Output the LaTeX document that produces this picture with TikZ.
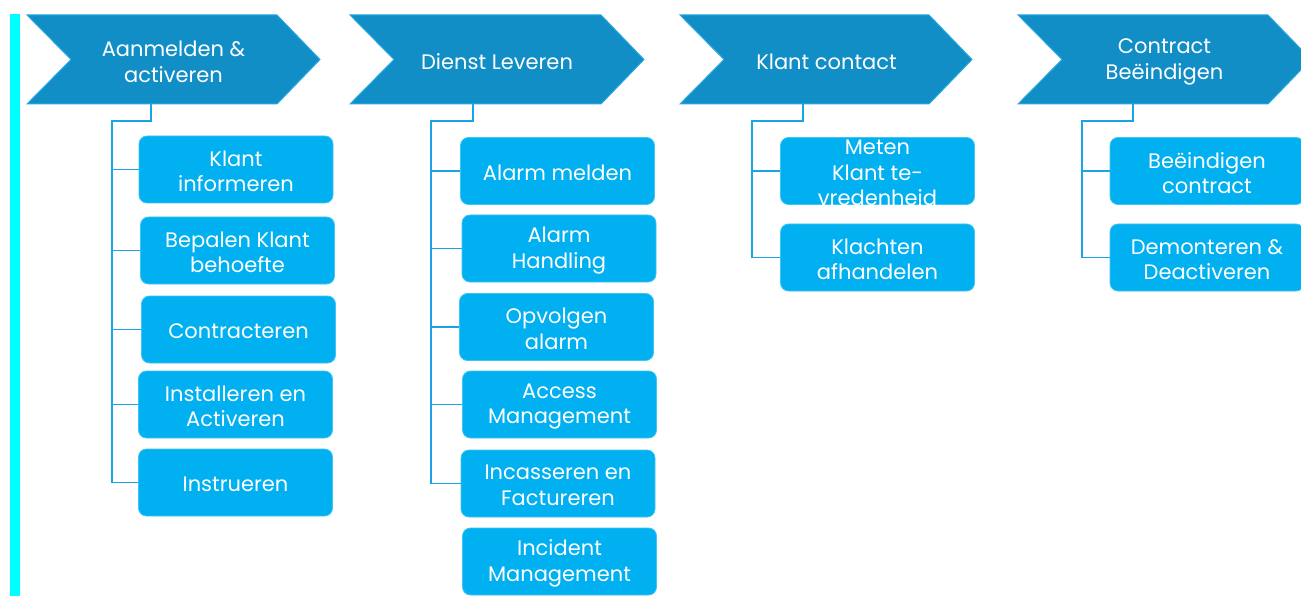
\documentclass[tikz,border=0pt]{standalone}
\usepackage{fontspec}
\setmainfont{Poppins}
\definecolor{chevfill}{HTML}{128EC6}
\definecolor{chevline}{HTML}{2AA8E2}
\definecolor{boxfill}{HTML}{00B0F0}
\definecolor{connc}{HTML}{1AA4E4}
\definecolor{cyanbar}{HTML}{00FFFF}
\newcommand\mychevron[2]{%
  \draw[chev] (#1,15) -- (#2,15) -- (#2+43,59.5) -- (#2,104) -- (#1,104) -- (#1+44,59.5) -- cycle;}
\begin{document}
\begin{tikzpicture}[x=1pt,y=-1pt,
  chev/.style={fill=chevfill, draw=chevline, line width=1pt},
  chevtext/.style={text=white, align=center, font=\fontsize{21}{25.5}\selectfont, inner sep=0pt},
  box/.style={rectangle, rounded corners=8pt, fill=boxfill, draw=boxfill!75!white, line width=0.8pt,
    minimum width=194pt, minimum height=67pt, text=white, align=center,
    font=\fontsize{21}{25.5}\selectfont, inner sep=0pt},
  boxtext/.style={text=white, align=center, font=\fontsize{21}{25.5}\selectfont, inner sep=0pt},
  conn/.style={draw=connc, line width=1.4pt}]
\useasboundingbox (0,0) rectangle (1301,596);
\fill[cyanbar] (10,14) rectangle (20,596);
% chevrons
\mychevron{27}{277}
\mychevron{350}{601}
\mychevron{680}{929}
\mychevron{1018}{1268}
\node[chevtext] (c1) at (173.5,62) {Aanmelden \&\\activeren};
\node[chevtext] (c2) at (497,62) {Dienst Leveren};
\node[chevtext] (c3) at (826.5,62) {Klant contact};
\node[chevtext] (c4) at (1164.5,62) {Contract\\Beëindigen};
% column 1
\node[box] (k1) at (236,169.5) {};
\node[boxtext] at (236,171.5) {Klant\\informeren};
\node[box] (k2) at (237.5,250.5) {};
\node[boxtext] at (237.5,252.5) {Bepalen Klant\\behoefte};
\node[box] (k3) at (238.5,329.5) {};
\node[boxtext] at (238.5,331.5) {Contracteren};
\node[box] (k4) at (235.5,404.5) {};
\node[boxtext] at (235.5,406.5) {Installeren en\\Activeren};
\node[box] (k5) at (235.5,482.5) {};
\node[boxtext] at (235.5,484.5) {Instrueren};
% column 2
\node[box] (d1) at (557.5,171) {};
\node[boxtext] at (557.5,173) {Alarm melden};
\node[box] (d2) at (559,248.5) {};
\node[boxtext] at (559,250.5) {Alarm\\Handling};
\node[box] (d3) at (556.5,327) {};
\node[boxtext] at (556.5,329) {Opvolgen\\alarm};
\node[box] (d4) at (559.5,404.5) {};
\node[boxtext] at (559.5,406.5) {Access\\Management};
\node[box] (d5) at (558,483.5) {};
\node[boxtext] at (558,485.5) {Incasseren en\\Factureren};
\node[box] (d6) at (559.5,561.5) {};
\node[boxtext] at (559.5,563.5) {Incident\\Management};
% column 3
\node[box] (m1) at (877.5,171) {};
\node[boxtext] at (877.5,173) {Meten\\Klant te-\\vredenheid};
\node[box] (m2) at (877.5,257.5) {};
\node[boxtext] at (877.5,259.5) {Klachten\\afhandelen};
% column 4
\node[box] (b1) at (1207,171) {};
\node[boxtext] at (1207,173) {Beëindigen\\contract};
\node[box] (b2) at (1207,257.5) {};
\node[boxtext] at (1207,259.5) {Demonteren \&\\Deactiveren};
% connectors
\coordinate (a1) at (151,104); \coordinate (t1) at (112,121);
\coordinate (a2) at (473,104); \coordinate (t2) at (431,121);
\coordinate (a3) at (803,104); \coordinate (t3) at (752,121);
\coordinate (a4) at (1133,104); \coordinate (t4) at (1082,121);
\foreach \k in {k1,k2,k3,k4,k5} \draw[conn] (a1) |- (t1) |- (\k.west);
\foreach \k in {d1,d2,d3,d4,d5} \draw[conn] (a2) |- (t2) |- (\k.west);
\foreach \k in {m1,m2} \draw[conn] (a3) |- (t3) |- (\k.west);
\foreach \k in {b1,b2} \draw[conn] (a4) |- (t4) |- (\k.west);
\end{tikzpicture}
\end{document}
